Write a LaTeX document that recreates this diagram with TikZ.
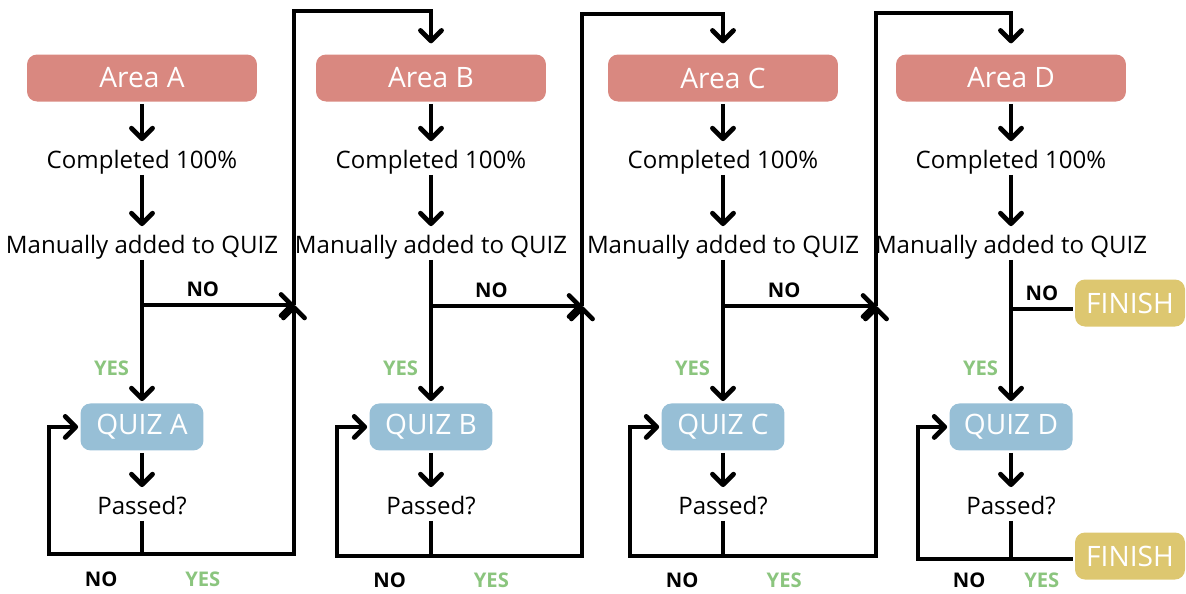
\documentclass[tikz,border=0pt]{standalone}
\usepackage{fontspec}
\setmainfont{Open Sans}
\usepackage{xcolor}
\usepackage{tikz}
\usetikzlibrary{arrows.meta,positioning,calc}

\definecolor{areared}{HTML}{D98880}
\definecolor{quizblue}{HTML}{97BFD6}
\definecolor{finishgold}{HTML}{DDC770}
\definecolor{yesgreen}{HTML}{8BC57E}

\begin{document}
\begin{tikzpicture}[
    x=0.02cm, y=-0.02cm,
    node distance=1.6cm,
    line width=2.7pt,
    >={Straight Barb[length=6pt,width=12pt,round]},
    area/.style={rectangle, fill=areared, text=white, rounded corners=0.2cm, minimum width=4.6cm, minimum height=0.94cm, inner sep=0pt, font=\fontsize{16}{19}\selectfont},
    quiz/.style={rectangle, fill=quizblue, text=white, rounded corners=0.2cm, minimum width=2.46cm, minimum height=0.94cm, inner sep=0pt, font=\fontsize{16}{19}\selectfont},
    finish/.style={rectangle, fill=finishgold, text=white, rounded corners=0.2cm, minimum width=2.2cm, minimum height=0.94cm, inner sep=0pt, font=\fontsize{16}{19}\selectfont},
    txt/.style={inner xsep=2pt, inner ysep=2pt, text height=12.5pt, text depth=0pt, font=\fontsize{13.7}{16}\selectfont},
    nolbl/.style={font=\bfseries\fontsize{11.5}{14}\selectfont, inner sep=3pt},
    yeslbl/.style={nolbl, text=yesgreen}
]
\useasboundingbox (0,0) rectangle (1186,593);

% Column A
\node [area] (areaA) at (142,78) {Area A};
\node [txt, below of=areaA] (compA) {Completed 100\%};
\node [txt, below of=compA, yshift=-0.1cm] (manA) {Manually added to QUIZ};
\node [quiz, below of=manA, yshift=-2.08cm] (quizA) {QUIZ A};
\node [txt, below of=quizA, yshift=0.06cm] (passA) {Passed?};

% Column B
\node [area] (areaB) at (431,78) {Area B};
\node [txt, below of=areaB] (compB) {Completed 100\%};
\node [txt, below of=compB, yshift=-0.1cm] (manB) {Manually added to QUIZ};
\node [quiz, below of=manB, yshift=-2.08cm] (quizB) {QUIZ B};
\node [txt, below of=quizB, yshift=0.06cm] (passB) {Passed?};

% Column C
\node [area] (areaC) at (723,78) {Area C};
\node [txt, below of=areaC] (compC) {Completed 100\%};
\node [txt, below of=compC, yshift=-0.1cm] (manC) {Manually added to QUIZ};
\node [quiz, below of=manC, yshift=-2.08cm] (quizC) {QUIZ C};
\node [txt, below of=quizC, yshift=0.06cm] (passC) {Passed?};

% Column D
\node [area] (areaD) at (1011,78) {Area D};
\node [txt, below of=areaD] (compD) {Completed 100\%};
\node [txt, below of=compD, yshift=-0.1cm] (manD) {Manually added to QUIZ};
\node [quiz, below of=manD, yshift=-2.08cm] (quizD) {QUIZ D};
\node [txt, below of=quizD, yshift=0.06cm] (passD) {Passed?};

% Finish
\node [finish] (finish1) at (1130,303) {FINISH};
\node [finish] (finish2) at (1130,556) {FINISH};

% Junctions
\coordinate (brA) at (142,305);
\coordinate (mgA) at (294,305);
\coordinate (topA) at (294,11);
\coordinate (btA) at (142,554);
\coordinate (lpA) at (49,554);

\coordinate (brB) at (431,306);
\coordinate (mgB) at (582,306);
\coordinate (topB) at (582,14);
\coordinate (btB) at (431,556);
\coordinate (lpB) at (337,556);

\coordinate (brC) at (723,306);
\coordinate (mgC) at (876,306);
\coordinate (topC) at (876,13);
\coordinate (btC) at (723,556);
\coordinate (lpC) at (630,556);

\coordinate (brD) at (1011,309);
\coordinate (btD) at (1011,559);
\coordinate (lpD) at (918,559);

% Connections A
\draw [->] (areaA) -- (compA);
\draw [->] (compA) -- (manA);
\draw [->] (manA) -- node [yeslbl, left=3pt, pos=0.77] {YES} (quizA);
\draw [->] (quizA) -- (passA);
\draw (passA) -- (btA);
\draw [->] (btA) -- node [nolbl, below=6pt, pos=0.44] {NO} (lpA) |- (quizA);
\draw [->] (btA) -| node [yeslbl, below=6pt, pos=0.2] {YES} (mgA);
\draw [->] (brA) -- node [nolbl, above=0.5pt, pos=0.4] {NO} (mgA);
\draw [->, shorten >=5pt] (mgA) -- (topA) -| (areaB);

% Connections B
\draw [->] (areaB) -- (compB);
\draw [->] (compB) -- (manB);
\draw [->] (manB) -- node [yeslbl, left=3pt, pos=0.77] {YES} (quizB);
\draw [->] (quizB) -- (passB);
\draw (passB) -- (btB);
\draw [->] (btB) -- node [nolbl, below=5pt, pos=0.44] {NO} (lpB) |- (quizB);
\draw [->] (btB) -| node [yeslbl, below=5pt, pos=0.2] {YES} (mgB);
\draw [->] (brB) -- node [nolbl, above=0.5pt, pos=0.4] {NO} (mgB);
\draw [->, shorten >=5pt] (mgB) -- (topB) -| (areaC);

% Connections C
\draw [->] (areaC) -- (compC);
\draw [->] (compC) -- (manC);
\draw [->] (manC) -- node [yeslbl, left=3pt, pos=0.77] {YES} (quizC);
\draw [->] (quizC) -- (passC);
\draw (passC) -- (btC);
\draw [->] (btC) -- node [nolbl, below=5pt, pos=0.44] {NO} (lpC) |- (quizC);
\draw [->] (btC) -| node [yeslbl, below=5pt, pos=0.2] {YES} (mgC);
\draw [->] (brC) -- node [nolbl, above=0.5pt, pos=0.4] {NO} (mgC);
\draw [->, shorten >=5pt] (mgC) -- (topC) -| (areaD);

% Connections D
\draw [->] (areaD) -- (compD);
\draw [->] (compD) -- (manD);
\draw [->] (manD) -- node [yeslbl, left=3pt, pos=0.77] {YES} (quizD);
\draw [->] (quizD) -- (passD);
\draw (brD) -- node [nolbl, above=0.5pt] {NO} (brD -| finish1.west);
\draw (passD) -- (btD);
\draw [->] (btD) -- node [nolbl, below=3.5pt, pos=0.45] {NO} (lpD) |- (quizD);
\draw (btD) -- node [yeslbl, below=3.5pt] {YES} (btD -| finish2.west);

\end{tikzpicture}
\end{document}
